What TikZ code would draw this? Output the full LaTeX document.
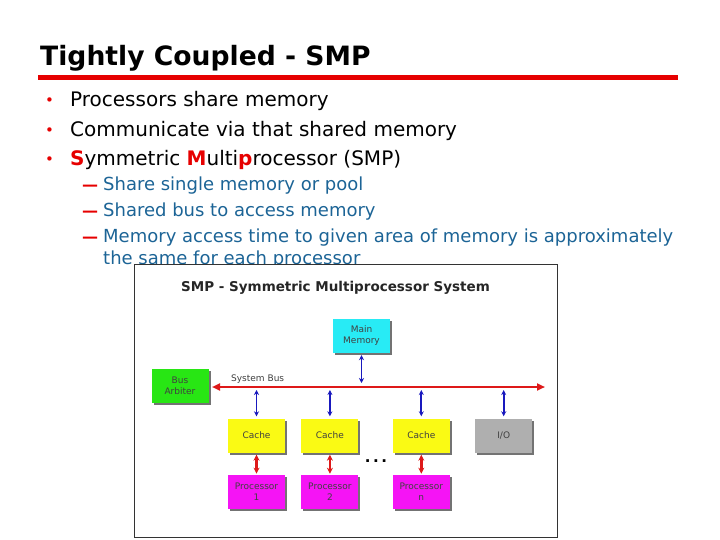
\documentclass[tikz,border=0pt]{standalone}
\usepackage{fontspec}
\setmainfont{DejaVu Sans}
\usepackage{xcolor}
\usepackage{tikz}
\usetikzlibrary{arrows.meta, positioning, shadows}

\definecolor{slidered}{RGB}{230,0,0}
\definecolor{subblue}{RGB}{28,100,150}
\definecolor{busred}{RGB}{222,25,25}
\definecolor{linkblue}{RGB}{25,25,190}
\definecolor{memcyan}{RGB}{40,235,245}
\definecolor{arbgreen}{RGB}{40,230,20}
\definecolor{cacheyellow}{RGB}{250,250,20}
\definecolor{procmagenta}{RGB}{245,20,245}
\definecolor{iogray}{RGB}{175,175,175}

\newcommand{\hl}[1]{\textcolor{slidered}{\textbf{#1}}}

\begin{document}
\begin{tikzpicture}[
    x=1pt, y=-1pt,
    node distance=22pt and 16pt,
    heading/.style={anchor=base west, inner sep=0pt, font=\fontsize{26.6}{32}\selectfont\bfseries},
    item/.style={anchor=base west, inner sep=0pt, font=\fontsize{20}{24}\selectfont},
    bulletmark/.style={anchor=base west, inner sep=0pt, text=slidered, font=\fontsize{15}{18}\selectfont},
    subitem/.style={anchor=base west, inner sep=0pt, align=left, text=subblue, font=\fontsize{18}{22}\selectfont},
    dashmark/.style={anchor=base west, inner sep=0pt, text=slidered, font=\fontsize{16}{22}\selectfont\bfseries},
    unit/.style={minimum width=57pt, minimum height=34pt, align=center, inner sep=1pt, text=black!75,
        font=\fontsize{9}{11}\selectfont,
        drop shadow={shadow xshift=2pt, shadow yshift=-2pt, fill=black!55, opacity=1}},
    bus/.style={{Triangle[length=8pt,width=7pt]}-{Triangle[length=8pt,width=7pt]}, line width=2.8pt, busred},
    link/.style={{Stealth[length=5pt,width=5pt]}-{Stealth[length=5pt,width=5pt]}, line width=1.8pt, linkblue},
    tie/.style={{Stealth[length=6pt,width=6pt]}-{Stealth[length=6pt,width=6pt]}, line width=2.4pt, busred}
]
\useasboundingbox (0,0) rectangle (720,540);

\node[heading] (title) at (40,66) {Tightly Coupled - SMP};
\draw[slidered, line width=5pt] (38,78) -- (678,78);

\node[bulletmark] (b1) at (45,106) {•};
\node[item] (p1) at (70,107) {Processors share memory};
\node[bulletmark] (b2) at (45,135.5) {•};
\node[item] (p2) at (70,136.5) {Communicate via that shared memory};
\node[bulletmark] (b3) at (45,165) {•};
\node[item] (p3) at (70,166) {\hl{S}ymmetric \hl{M}ulti\hl{p}rocessor (SMP)};

\node[dashmark] (d1) at (82,191) {—};
\node[subitem] (s1) at (103,191) {Share single memory or pool};
\node[dashmark] (d2) at (82,217) {—};
\node[subitem] (s2) at (103,217) {Shared bus to access memory};
\node[dashmark] (d3) at (82,243) {—};
\node[subitem] (s3) at (103,243) {Memory access time to given area of memory is approximately};
\node[subitem] (s4) at (103,264.5) {the same for each processor};

\node[draw=black!80, fill=white, minimum width=423pt, minimum height=273pt] (figbox) at (345.5,400.5) {};
\node[font=\fontsize{13.5}{16}\selectfont\bfseries, text=black!85] (figtitle) at (335.5,288) {SMP - Symmetric Multiprocessor System};

\node[unit, fill=memcyan] (memory) at (361.5,336) {Main\\Memory};
\node[unit, fill=arbgreen] (arbiter) at (180,386) {Bus\\Arbiter};
\node[unit, fill=cacheyellow] (cache1) at (256.5,435.5) {Cache};
\node[unit, fill=cacheyellow, right=of cache1] (cache2) {Cache};
\node[unit, fill=cacheyellow, right=34pt of cache2] (cachen) {Cache};
\node[unit, fill=iogray, right=25pt of cachen] (io) {I/O};
\node[unit, fill=procmagenta, below=of cache1] (proc1) {Processor\\1};
\node[unit, fill=procmagenta, below=of cache2] (proc2) {Processor\\2};
\node[unit, fill=procmagenta, below=of cachen] (procn) {Processor\\n};
\node[font=\fontsize{15}{15}\selectfont\bfseries] (dots) at (376,461) {.\,.\,.};

\coordinate (busL) at (212,387);
\coordinate (busR) at (545,387);
\draw[bus] (busL) -- (busR);
\node[anchor=base west, inner sep=0pt, text=black!75, font=\fontsize{9}{11}\selectfont] (buslabel) at (231,381) {System Bus};

\draw[link] ([yshift=-2pt]memory.south) -- ([yshift=4pt]memory.south |- busL);
\foreach \u in {cache1, cache2, cachen, io}
    \draw[link] ([yshift=-3pt]\u.north |- busL) -- ([yshift=2pt]\u.north);
\draw[tie] ([yshift=-2pt]cache1.south) -- ([yshift=1pt]proc1.north);
\draw[tie] ([yshift=-2pt]cache2.south) -- ([yshift=1pt]proc2.north);
\draw[tie] ([yshift=-2pt]cachen.south) -- ([yshift=1pt]procn.north);

\end{tikzpicture}
\end{document}
